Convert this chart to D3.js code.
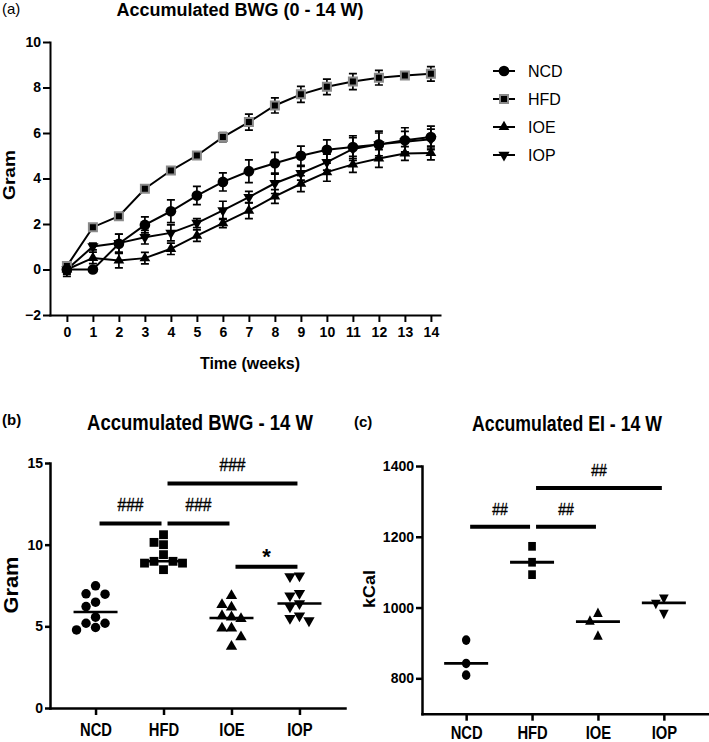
<!DOCTYPE html>
<html><head><meta charset="utf-8">
<script src="https://cdn.jsdelivr.net/npm/d3@7"></script>
<style>
body{margin:0;background:#fff;}
svg{display:block;font-family:"Liberation Sans",Arial,Helvetica,sans-serif;}
</style></head><body>
<svg id="chart" width="709" height="742"></svg>
<script>
// ---------------- data ----------------
const weeks = [0,1,2,3,4,5,6,7,8,9,10,11,12,13,14];
const seriesNames = ["NCD","HFD","IOE","IOP"];
const ncdMean = [0, 0, 1.13, 1.96, 2.56, 3.25, 3.85, 4.32, 4.67, 5.0, 5.26, 5.38, 5.5, 5.68, 5.82];
const ncdSem  = [0.3, 0.05, 0.42, 0.35, 0.5, 0.4, 0.4, 0.5, 0.48, 0.42, 0.44, 0.5, 0.58, 0.55, 0.48];
const hfdMean = [0.15, 1.86, 2.34, 3.55, 4.35, 5.01, 5.82, 6.48, 7.21, 7.7, 8.03, 8.26, 8.43, 8.53, 8.6];
const hfdSem  = [0.1, 0.1, 0.1, 0.1, 0.12, 0.15, 0.2, 0.35, 0.33, 0.35, 0.34, 0.35, 0.32, 0.15, 0.32];
const ioeMean = [0, 0.51, 0.4, 0.5, 0.91, 1.49, 2.04, 2.59, 3.21, 3.77, 4.28, 4.62, 4.88, 5.1, 5.12];
const ioeSem  = [0.15, 0.25, 0.33, 0.25, 0.25, 0.25, 0.2, 0.35, 0.3, 0.35, 0.4, 0.35, 0.39, 0.3, 0.3];
const iopMean = [0, 1.01, 1.16, 1.42, 1.61, 2.04, 2.6, 3.18, 3.79, 4.23, 4.72, 5.3, 5.5, 5.62, 5.72];
const iopSem  = [0.2, 0.15, 0.4, 0.3, 0.35, 0.2, 0.4, 0.25, 0.45, 0.3, 0.35, 0.5, 0.5, 0.45, 0.45];
const bwgTicksA = [-2,0,2,4,6,8,10];

const groups = ["NCD","HFD","IOE","IOP"];
const bwgNCD = [7.48, 6.97, 6.99, 6.21, 6.48, 5.56, 4.78, 5.19, 4.93, 5.19];
const bwgHFD = [10.61, 10.0, 10.14, 8.87, 8.98, 8.87, 8.98, 9.39, 8.47];
const bwgIOE = [6.87, 6.32, 6.17, 5.56, 5.64, 5.46, 4.88, 4.88, 4.35, 3.76];
const bwgIOP = [8.05, 8.1, 7.03, 6.87, 6.4, 6.2, 5.35, 5.65, 5.5];
const bwgTicks = [0,5,10,15];
const bwgSigPairs  = [["NCD","HFD"],["HFD","IOE"],["HFD","IOP"],["IOE","IOP"]];
const bwgSigLabels = ["###","###","###","*"];
const bwgSigLevels = [11.3, 11.3, 13.75, 8.65];

const eiNCD = [908, 842, 809];
const eiHFD = [1173, 1128, 1093];
const eiIOE = [982, 960, 918];
const eiIOP = [1028, 1013, 985];
const eiTicks = [800,1000,1200,1400];
const eiSigPairs  = [["NCD","HFD"],["HFD","IOE"],["HFD","IOP"]];
const eiSigLabels = ["##","##","##"];
const eiSigLevels = [1228, 1228, 1338];

// ---------------- helpers ----------------
const FONT = '"Liberation Sans", Arial, Helvetica, sans-serif';
const svg = d3.select("#chart");

function symPath(name, size){
  const type = name==="NCD" ? d3.symbolCircle : name==="HFD" ? d3.symbolSquare : d3.symbolTriangle;
  return d3.symbol().type(type).size(size)();
}
function symRot(name){ return name==="IOP" ? " rotate(180)" : ""; }
function styleAxis(g, fs, sw, squeezeRatio){
  g.attr("font-family", FONT).attr("font-size", fs).attr("font-weight","bold");
  g.selectAll(".domain").attr("stroke","#000").attr("stroke-width",sw).attr("stroke-linecap","square");
  g.selectAll(".tick line").attr("stroke","#000").attr("stroke-width",sw);
  g.selectAll(".tick text").attr("fill","#000");
  if (squeezeRatio) squeeze(g.selectAll(".tick text"), squeezeRatio);
}
function squeeze(sel, ratio){
  sel.each(function(){
    const w = this.getComputedTextLength();
    this.setAttribute("textLength", w*ratio);
    this.setAttribute("lengthAdjust","spacingAndGlyphs");
  });
}
function fit(sel, width){ sel.attr("textLength", width).attr("lengthAdjust","spacingAndGlyphs"); }
// horizontally scaled, centred text (keeps the true on-screen box)
function scaledTitle(g, cx, y, fs, width, txt){
  const t = g.append("text").attr("text-anchor","middle").attr("font-size",fs).attr("font-weight","bold").text(txt);
  const w = t.node().getComputedTextLength();
  t.attr("transform",`translate(${cx},${y}) scale(${width/w},1)`);
  return t;
}
function median(a){ return d3.median(a); }
function dodge(values, cx, yScale, step, minDist){
  const pts = values.map(v => ({v, y: yScale(v)})).sort((a,b)=>a.y-b.y);
  const cands = [0,-1,1,-2,2].map(k=>k*step);
  const placed = [];
  for (const p of pts){
    let best = null, bestD = -1;
    for (const off of cands){
      const x = cx+off;
      const d = placed.length ? d3.min(placed, q => Math.hypot(q.x-x, q.y-p.y)) : Infinity;
      if (d >= minDist){ best = x; break; }
      if (d > bestD){ bestD = d; best = x; }
    }
    p.x = best; placed.push(p);
  }
  return placed;
}

// ================= Panel (a) =================
const ax = d3.scaleLinear().domain([-0.65,14.35]).range([50,440]);
const ay = d3.scaleLinear().domain([-2,10]).range([315,42]);
const gA = svg.append("g");

gA.append("text").attr("x",2).attr("y",14).attr("font-size",15).text("(a)");
gA.append("text").attr("x",240).attr("y",16).attr("text-anchor","middle")
  .attr("font-size",18).attr("font-weight","bold").text("Accumulated BWG (0 - 14 W)");

const xAxA = gA.append("g").attr("transform","translate(0,315)")
  .call(d3.axisBottom(ax).tickValues(weeks).tickFormat(d3.format("d")).tickSize(7).tickPadding(5).tickSizeOuter(0));
styleAxis(xAxA, 14, 2);
const yAxA = gA.append("g").attr("transform","translate(50,0)")
  .call(d3.axisLeft(ay).tickValues(bwgTicksA).tickSize(7).tickPadding(2).tickSizeOuter(0));
styleAxis(yAxA, 14, 2);

gA.append("text").attr("x",250).attr("y",369).attr("text-anchor","middle")
  .attr("font-size",16).attr("font-weight","bold").text("Time (weeks)");
fit(gA.append("text").attr("transform","translate(15,175) rotate(-90)").attr("text-anchor","middle")
  .attr("font-size",16).attr("font-weight","bold").text("Gram"), 50);

const seriesA = [
  {name:"IOP", mean:iopMean, sem:iopSem},
  {name:"IOE", mean:ioeMean, sem:ioeSem},
  {name:"HFD", mean:hfdMean, sem:hfdSem},
  {name:"NCD", mean:ncdMean, sem:ncdSem}
];
const symSizeA = {NCD: 90, HFD: 64, IOE: 50, IOP: 54};
const lineA = d3.line().x((d,i)=>ax(weeks[i])).y(d=>ay(d));
seriesA.forEach(s=>{
  const g = gA.append("g");
  g.selectAll("path.eb").data(weeks).join("path").attr("class","eb")
    .attr("d",(w,i)=>{
      const x = ax(w), y1 = ay(s.mean[i]+s.sem[i]), y0 = ay(s.mean[i]-s.sem[i]);
      return `M${x},${y0}V${y1}M${x-4},${y1}H${x+4}M${x-4},${y0}H${x+4}`;
    })
    .attr("stroke","#000").attr("stroke-width",1.7).attr("fill","none");
  g.append("path").attr("d", lineA(s.mean)).attr("fill","none").attr("stroke","#000").attr("stroke-width",2);
});
seriesA.forEach(s=>{
  gA.append("g").selectAll("path.m").data(weeks).join("path").attr("class","m")
    .attr("transform",(w,i)=>`translate(${ax(w)},${ay(s.mean[i])})${symRot(s.name)}`)
    .attr("d", symPath(s.name, symSizeA[s.name]))
    .attr("fill","#000")
    .attr("stroke", s.name==="HFD" ? "#8a8a8a" : "none")
    .attr("stroke-width", s.name==="HFD" ? 2 : 0);
});

// legend
const legY = d3.scalePoint().domain(seriesNames).range([71,155]);
const leg = gA.append("g");
seriesNames.forEach(n=>{
  const y = legY(n);
  leg.append("line").attr("x1",493).attr("x2",515).attr("y1",y).attr("y2",y).attr("stroke","#000").attr("stroke-width",2);
  leg.append("path").attr("transform",`translate(504,${y})${symRot(n)}`).attr("d",symPath(n, symSizeA[n]))
    .attr("fill","#000").attr("stroke", n==="HFD" ? "#8a8a8a" : "none").attr("stroke-width", n==="HFD"?2:0);
  leg.append("text").attr("x",528).attr("y",y).attr("dy","0.36em").attr("font-size",16).text(n);
});

// ================= dot-plot panels =================
function dotPanel(opt){
  const g = svg.append("g");
  const x = d3.scalePoint().domain(groups).range(opt.xRange).padding(0.67);
  const y = d3.scaleLinear().domain(opt.yDomain).range(opt.yRange);
  g.append("text").attr("x",opt.tagX).attr("y",opt.tagY).attr("font-size",15).attr("font-weight","bold").text(opt.tag);
  scaledTitle(g, opt.titleX, opt.titleY, 22, opt.titleW, opt.title);
  const yl = g.append("text").attr("transform",`translate(${opt.ylabX},${opt.ylabY}) rotate(-90)`).attr("text-anchor","middle")
    .attr("font-size",opt.ylabFs).attr("font-weight","bold").text(opt.ylab);
  fit(yl, opt.ylabW);

  const xa = g.append("g").attr("transform",`translate(0,${opt.yRange[0]})`)
    .call(d3.axisBottom(x).tickSize(7).tickPadding(opt.xPad).tickSizeOuter(0));
  styleAxis(xa, 18, 2.5, 0.82);
  const ya = g.append("g").attr("transform",`translate(${opt.xRange[0]},0)`)
    .call(d3.axisLeft(y).tickValues(opt.ticks).tickFormat(d3.format("d")).tickSize(opt.yTick).tickPadding(2).tickSizeOuter(0));
  styleAxis(ya, 14, 2.5);

  // points
  opt.data.forEach((vals, gi)=>{
    const name = groups[gi];
    const pts = dodge(vals, x(name), y, opt.step, opt.minDist);
    g.append("g").selectAll("path").data(pts).join("path")
      .attr("transform", p=>`translate(${p.x},${p.y}) scale(${opt.symSX},1)${symRot(name)}`)
      .attr("d", symPath(name, opt.symSize[name])).attr("fill","#000");
    const m = y(median(vals));
    g.append("line").attr("x1",x(name)-22).attr("x2",x(name)+22).attr("y1",m).attr("y2",m)
      .attr("stroke","#000").attr("stroke-width",opt.medW);
  });

  // significance bars
  opt.sigPairs.forEach((pr, i)=>{
    const yy = y(opt.sigLevels[i]);
    const x1 = x(pr[0]) + 4, x2 = x(pr[1]) - 2;
    g.append("line").attr("x1",x1).attr("x2",x2).attr("y1",yy).attr("y2",yy).attr("stroke","#000").attr("stroke-width",4);
    const lab = opt.sigLabels[i];
    const star = lab === "*";
    const tt = g.append("text").attr("x",(x1+x2)/2).attr("y", star ? yy-3 : yy-12).attr("text-anchor","middle")
      .attr("font-size", star ? 22 : opt.hashFs).attr("font-weight", star ? "bold" : "normal")
      .attr("stroke", star ? "none" : "#000").attr("stroke-width", star ? 0 : 0.4).text(lab);
    if (!star) squeeze(tt, 0.82);
  });
}

dotPanel({
  tag:"(b)", tagX:2, tagY:425,
  title:"Accumulated BWG - 14 W", titleX:200, titleY:430, titleW:226,
  ylab:"Gram", ylabX:18, ylabY:585, ylabFs:21, ylabW:57,
  xRange:[50,345], yDomain:[0,15], yRange:[708,463], ticks:bwgTicks, yTick:5, xPad:8.5,
  data:[bwgNCD,bwgHFD,bwgIOE,bwgIOP], step:9.5, minDist:9,
  symSize:{NCD:70, HFD:78, IOE:56, IOP:56}, symSX:1, medW:2.5,
  sigPairs:bwgSigPairs, sigLabels:bwgSigLabels, sigLevels:bwgSigLevels, hashFs:19
});
dotPanel({
  tag:"(c)", tagX:354, tagY:427,
  title:"Accumulated EI - 14 W", titleX:567, titleY:431, titleW:190,
  ylab:"kCal", ylabX:375, ylabY:589, ylabFs:17, ylabW:38,
  xRange:[422,708], yDomain:[700,1400], yRange:[713.7,466], ticks:eiTicks, yTick:6, xPad:5.5,
  data:[eiNCD,eiHFD,eiIOE,eiIOP], step:8, minDist:9,
  symSize:{NCD:72, HFD:76, IOE:52, IOP:52}, symSX:0.88, medW:2.8,
  sigPairs:eiSigPairs, sigLabels:eiSigLabels, sigLevels:eiSigLevels, hashFs:17
});
</script>
</body></html>
